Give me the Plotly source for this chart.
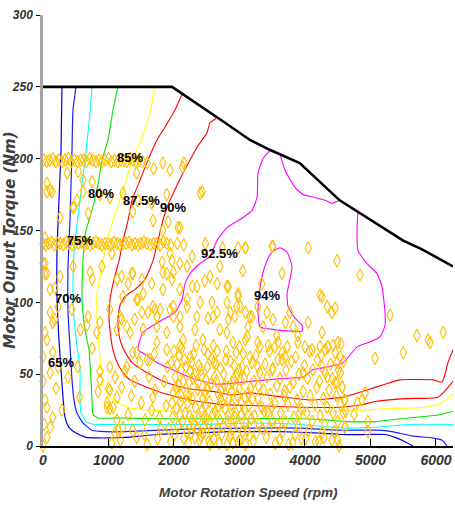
import plotly.graph_objects as go

# ---------------- data (speed in rpm, torque in Nm) ----------------
max_speed = [0, 1970, 2780, 3160, 3470, 3920, 4530, 4840, 5500, 5780, 6215, 6260]
max_torque = [250, 250, 225, 213, 206, 197, 171, 162, 143, 137, 126, 125]

c65_speed = [290, 275, 244, 214, 214, 244, 275, 305, 336, 397, 504, 657, 825, 1023, 1252, 1741, 2245, 2855, 3619, 4230, 4535, 4963, 5222, 5375, 5528, 5650]
c65_torque = [250, 206, 171, 136, 102, 74, 53, 34, 20, 13, 9, 6, 5.6, 5.6, 6, 8, 9, 10, 10, 9, 8, 8, 8, 6, 3, 0]

c70_speed = [504, 458, 443, 412, 382, 382, 412, 443, 473, 519, 611, 748, 947, 1252, 1787, 2397, 3161, 3924, 4505, 5115, 5329, 5635, 5940, 6093, 6169]
c70_torque = [250, 234, 206, 157, 125, 93, 70, 46, 32, 23, 16, 11, 10, 10, 11, 12, 12.5, 12.5, 11, 11, 10, 7, 5.6, 4, 0]

c75_speed = [748, 718, 641, 565, 489, 458, 473, 519, 565, 565, 580, 657, 794, 1176, 1787, 2397, 3161, 3924, 4566, 5070, 5574, 6260]
c75_torque = [250, 232, 199, 171, 143, 116, 88, 70, 53, 32, 23, 17, 15, 15, 15, 15, 16, 15, 12.5, 13, 15, 15]

c80_speed = [1145, 1069, 993, 901, 840, 748, 641, 611, 596, 641, 702, 733, 748, 764, 840, 1176, 1787, 2397, 3161, 3924, 4382, 4657, 5070, 5574, 6032, 6260]
c80_torque = [250, 234, 213, 199, 182, 164, 147, 129, 102, 81, 67, 46, 32, 22, 19.5, 19.5, 19, 19, 19, 19, 18, 17, 17, 19.5, 21.6, 24]

c85_speed = [1710, 1634, 1481, 1359, 1222, 1054, 977, 901, 825, 825, 855, 886, 916, 1023, 1283, 1634, 2245, 3161, 3924, 4535, 4810, 5329, 5833, 6093, 6260]
c85_torque = [250, 232, 211, 199, 178, 155, 143, 125, 106, 88, 70, 53, 42, 34, 27, 25, 24, 24, 24, 24, 25, 26, 27, 30, 36]

c875_speed = [2123, 2016, 1863, 1741, 1603, 1481, 1359, 1298, 1222, 1161, 1084, 1023, 1008, 1054, 1115, 1206, 1329, 1527, 1893, 2245, 2703, 3314, 3924, 4535, 4841, 5070, 5528, 6032, 6169, 6260]
c875_torque = [245, 234, 222, 213, 199, 185, 171, 157, 143, 129, 116, 102, 88, 70, 60, 52, 46, 42, 36, 32, 29, 28, 27, 27, 28.5, 31, 33, 34, 40, 45]

c90_speed = [2642, 2550, 2504, 2352, 2245, 2138, 2031, 1939, 1863, 1802, 1756, 1680, 1558, 1405, 1252, 1176, 1145, 1161, 1222, 1359, 1588, 1893, 2199, 2596, 2901, 3161, 3665, 4077, 4581, 4948, 5222, 5451, 5955, 6093, 6184, 6260]
c90_torque = [228, 225, 218, 208, 199, 190, 180, 171, 162, 152, 143, 129, 116, 109, 104, 98, 88, 77, 68, 58, 51, 44, 40, 38, 35.5, 37, 34, 32, 34, 39, 43, 46, 46, 44.5, 58, 67]

c925_speed = [3466, 3359, 3283, 3268, 3191, 3054, 2810, 2657, 2550, 2397, 2245, 2168, 2123, 2016, 1832, 1680, 1527, 1481, 1451, 1588, 1741, 1985, 2291, 2657, 3161, 3665, 3970, 4123, 4230, 4581, 4795, 4963, 5146, 5222, 5222, 5176, 5100, 4948, 4810, 4795, 4810]
c925_torque = [206, 200, 190, 173, 164, 159, 152, 143, 132, 127, 120, 113, 102, 93, 88, 84, 79, 74, 67, 63, 58, 53, 47, 43, 45, 47, 48, 53, 54, 58, 69, 72, 76, 84, 93, 111, 120, 127, 136, 152, 163]

c925b_speed = [3619, 3695, 3848, 3970, 4153, 4306, 4413, 4530]
c925b_torque = [203, 192, 180, 175, 173, 171, 169, 171]

c94_speed = [3619, 3726, 3802, 3772, 3726, 3741, 3848, 3955, 3955, 3772, 3543, 3314, 3283, 3298, 3344, 3420, 3497, 3619]
c94_torque = [138, 135, 125, 116, 106, 97, 89, 84, 80, 80, 81, 83, 93, 104, 118, 129, 135, 138]

level_labels = ["65%", "70%", "75%", "80%", "85%", "87.5%", "90%", "92.5%", "94%"]
label_speed = [275, 382, 565, 886, 1328, 1500, 1980, 2688, 3420]
label_torque = [58, 103, 143, 176, 201, 171, 166, 134, 105]

x_ticks = [0, 1000, 2000, 3000, 4000, 5000, 6000]
y_ticks = [0, 50, 100, 150, 200, 250, 300]

# operating points
row_hi_speed = [10, 55, 100, 150, 195, 245, 290, 340, 385, 430, 480, 525, 575, 620, 665, 715, 760, 810, 855, 900, 950, 1000, 1045, 1090, 1140, 1185, 1235, 1280, 1330, 1375, 1420, 1470, 1520, 1590, 1690, 1830, 1940, 2130, 2150]
row_hi_torque = [199, 198, 199, 200, 198, 199, 198, 199, 200, 198, 199, 198, 199, 199, 198, 200, 199, 198, 199, 198, 199, 200, 198, 199, 198, 199, 199, 198, 200, 199, 198, 199, 198, 197, 193, 197, 192, 194, 197]

row_mid_speed = [0, 40, 85, 130, 175, 220, 265, 310, 355, 400, 445, 490, 540, 585, 630, 675, 720, 765, 810, 855, 900, 950, 995, 1040, 1085, 1130, 1175, 1220, 1265, 1310, 1360, 1405, 1450, 1495, 1540, 1590, 1640, 1690, 1740, 1790, 1840, 1890, 1950, 2050, 2150, 2480, 2740, 3090, 3510]
row_mid_torque = [141, 140, 141, 142, 140, 141, 141, 140, 142, 141, 140, 141, 141, 142, 140, 141, 140, 141, 142, 141, 140, 141, 141, 140, 142, 141, 140, 141, 141, 142, 140, 141, 140, 141, 142, 141, 140, 141, 141, 140, 142, 141, 140, 141, 140, 141, 138, 138, 139]

upper_speed = [60, 140, 370, 540, 750, 610, 470, 520, 870, 1020, 1220, 1430, 1450, 1370, 1660, 1890, 1680, 1910, 2090, 2400, 260, 690, 30, 1830, 2060, 60, 110, 460, 610, 2430]
upper_torque = [177, 177, 190, 191, 184, 177, 166, 171, 175, 173, 176, 190, 171, 163, 169, 175, 157, 156, 152, 176, 159, 162, 145, 150, 152, 183, 178, 166, 185, 177]

left_speed = [0, 30, 110, 150, 60, 150, 0, 230, 30, 60, 260, 180, 460, 720, 750, 900, 110, 230, 180, 30, 440, 570, 670, 820, 690, 870,
              110, 290, 60, 110, 0, 60, 30, 150, 530, 380, 840, 560, 750, 980, 0, 200, 20, 870, 870, 980]
left_torque = [127, 120, 109, 86, 74, 65, 62, 55, 127, 120, 118, 110, 125, 121, 116, 125, 93, 97, 88, 79, 95, 81, 84, 79, 90, 86,
               51, 25, 27, 13, 0, 6, 32, 20, 55, 48, 38, 34, 68, 30, 45, 40, 15, 52, 46, 27]

midl_speed = [1020, 1180, 1220, 1280, 1400, 1530, 1680, 1740, 1830, 1660, 1990, 2090, 2200, 1990, 1740, 1890, 2090, 1590, 1370, 1280, 1020, 1050, 1130, 1200, 1300, 1370, 1430, 1530, 1510, 1600, 1710, 1890, 1970, 1820, 1940, 2090, 2200, 1200, 1330, 1130, 1020, 1130, 1070, 1790, 1450, 1510, 1360, 1830, 1970, 2090, 1940, 2090, 1990, 1890, 1740]
midl_torque = [95, 90, 104, 83, 88, 81, 97, 90, 109, 113, 97, 109, 102, 121, 72, 67, 69, 60, 65, 55, 55, 134, 116, 118, 113, 120, 102, 106, 93, 93, 95, 120, 129, 128, 95, 90, 97, 88, 79, 81, 39, 34, 27, 95, 102, 116, 120, 121, 116, 127, 134, 83, 90, 79, 83]

midr_speed = [2350, 2400, 2320, 2440, 2600, 2700, 2810, 2200, 2280, 2280, 2470, 2550, 2660, 2700, 2830, 2980, 3050, 3010, 3090, 2930, 2580, 2520, 2660, 2350, 2810, 3130, 3500, 3650, 3510, 3360, 3280, 3420, 3570, 3090, 2980, 4050, 4490, 4840, 4460, 4260, 4340, 4410, 4050, 4260, 3340, 3190, 3700, 3770, 3820, 3890, 2810, 2980, 2960, 2860, 2830, 3160, 3120, 3090, 3280, 3310, 3440, 3540, 3590, 3730, 3890, 4000, 4110, 4230, 4310, 4350, 4430, 4500, 4540, 4490, 3700, 3500, 3280, 3650, 3970, 4260, 4340, 4460, 4540, 4570, 4610, 4580, 4610, 4500, 4920, 4870, 4960, 4960, 5070, 5300, 5500, 5710, 5880, 6110, 5910, 4230]
midr_torque = [111, 100, 81, 74, 90, 81, 100, 125, 132, 111, 115, 118, 113, 125, 111, 106, 122, 97, 93, 90, 100, 89, 93, 90, 79, 83, 139, 120, 88, 83, 97, 93, 77, 138, 138, 138, 129, 119, 96, 104, 97, 93, 86, 79, 113, 90, 86, 93, 83, 77, 111, 104, 97, 93, 88, 90, 76, 74, 72, 69, 70, 69, 72, 69, 72, 69, 67, 69, 67, 69, 70, 72, 62, 58, 62, 53, 55, 60, 51, 55, 48, 44, 51, 41, 32, 23, 13, 4, 37, 32, 17, 10, 61, 91, 65, 77, 74, 79, 72, 105]

low_speed = [1050, 1100, 1130, 1180, 1220, 1150, 1370, 1430, 1590, 1560, 1660, 1680, 1710, 1480, 1430, 1630, 1200, 1020, 1300, 1500, 1800, 1850, 1750, 1880, 1620, 1400, 1250, 1550, 1780, 1900, 1700, 1350, 1000, 1100]
low_torque = [2, 9, 18, 4, 13, 11, 11, 6, 1, 18, 25, 34, 39, 58, 65, 60, 41, 26, 22, 30, 12, 45, 5, 28, 48, 45, 52, 8, 20, 55, 64, 35, 40, 48]

cloud_speed = [1950, 2010, 2060, 1980, 2040, 2100, 1990, 2070, 2020, 2110, 1960, 2080, 2150, 2130, 2170, 2190, 2140, 2180, 2120, 2200,
               2220, 2260, 2300, 2240, 2330, 2280, 2360, 2230, 2310, 2380, 2250, 2340, 2390, 2370, 2210, 2290, 2350, 2270,
               2410, 2450, 2500, 2430, 2540, 2470, 2560, 2420, 2510, 2580, 2460, 2530, 2590, 2490, 2440, 2570, 2520, 2480,
               2610, 2650, 2700, 2630, 2740, 2680, 2770, 2620, 2710, 2790, 2660, 2750, 2690, 2720, 2640, 2780,
               2810, 2850, 2900, 2830, 2940, 2880, 2970, 2820, 2910, 2990, 2860, 2950, 2870, 2930, 2890, 2980, 2840, 2960,
               3010, 3050, 3100, 3030, 3140, 3080, 3170, 3020, 3110, 3190, 3060, 3150, 3090, 3130, 3040, 3180,
               3210, 3260, 3300, 3230, 3340, 3280, 3370, 3220, 3310, 3390, 3250, 3350, 3290, 3380,
               3410, 3450, 3500, 3430, 3540, 3470, 3570, 3420, 3510, 3590, 3460, 3550, 3490, 3580,
               3610, 3660, 3700, 3630, 3740, 3680, 3770, 3620, 3710, 3790, 3650, 3750, 3690,
               3810, 3850, 3900, 3830, 3940, 3880, 3970, 3820, 3910, 3990, 3860, 3950, 3920,
               4010, 4060, 4110, 4030, 4150, 4080, 4180, 4040, 4120, 4190, 4070, 4160,
               4210, 4260, 4300, 4230, 4340, 4280, 4370, 4220, 4310, 4390, 4250, 4350, 4290,
               4410, 4450, 4500, 4430, 4540, 4480, 4570, 4420, 4510, 4590, 4460, 4550, 4610, 4600, 4520, 4620, 4490,
               4750, 4800,
               1920, 1970, 2030, 2090, 2160, 2230, 2270, 2320, 2410, 2460, 2510, 2550, 2610, 2670, 2730, 2760, 2830, 2880, 2920, 2990, 3030, 3070, 3120, 3160,
               2050, 2110, 2250, 2370, 2450, 2530, 2650, 2710, 2800, 2900, 3000, 3080, 3200, 2000, 2140, 2300, 2600, 2900, 3000]
cloud_torque = [3, 8, 14, 20, 26, 31, 37, 42, 48, 53, 58, 63, 5, 17, 23, 36, 45, 55, 68, 10,
                2, 9, 15, 21, 27, 33, 39, 44, 50, 56, 62, 70, 4, 19, 30, 47, 12, 58,
                7, 13, 19, 25, 31, 37, 43, 49, 55, 61, 67, 3, 22, 46, 33, 10, 64, 28,
                5, 11, 18, 24, 30, 36, 42, 48, 54, 60, 66, 14, 2, 39, 57, 26,
                1, 6, 12, 17, 23, 29, 35, 41, 47, 53, 59, 65, 8, 20, 44, 3, 32, 50,
                4, 10, 16, 22, 28, 34, 40, 46, 52, 58, 64, 7, 1, 37, 55, 19,
                3, 9, 15, 21, 27, 33, 39, 45, 51, 57, 63, 12, 42, 24,
                6, 12, 18, 24, 30, 36, 42, 48, 54, 60, 66, 2, 27, 15,
                4, 10, 17, 23, 29, 35, 41, 47, 53, 59, 65, 1, 38,
                2, 8, 14, 20, 26, 32, 38, 44, 50, 56, 62, 5, 23,
                5, 11, 17, 23, 29, 35, 41, 47, 53, 60, 66, 3,
                3, 9, 15, 21, 27, 33, 39, 45, 51, 57, 63, 69, 6,
                4, 10, 17, 23, 29, 35, 41, 47, 53, 59, 65, 71, 13, 32, 0, 24, 44,
                22, 30,
                12, 30, 40, 22, 60, 35, 18, 6, 53, 20, 40, 1, 58, 27, 8, 50, 21, 38, 56, 14, 30, 47, 11, 62,
                57, 35, 52, 44, 9, 16, 45, 33, 66, 2, 40, 25, 33, 66, 74, 64, 70, 72, 69]

op_speed = row_hi_speed + row_mid_speed + upper_speed + left_speed + midl_speed + midr_speed + low_speed + cloud_speed
op_torque = row_hi_torque + row_mid_torque + upper_torque + left_torque + midl_torque + midr_torque + low_torque + cloud_torque

# ---------------- styling ----------------
contours = [
    (c65_speed, c65_torque, "#0000E6", 1.2),
    (c70_speed, c70_torque, "#1E1EFF", 1.2),
    (c75_speed, c75_torque, "#00FFFF", 1.1),
    (c80_speed, c80_torque, "#00E600", 1.1),
    (c85_speed, c85_torque, "#FFFF00", 1.1),
    (c875_speed, c875_torque, "#FF0000", 1.1),
    (c90_speed, c90_torque, "#FF0000", 1.1),
    (c925_speed, c925_torque, "#FF00FF", 1.1),
    (c925b_speed, c925b_torque, "#FF00FF", 1.1),
    (c94_speed, c94_torque, "#FF00FF", 1.1),
]

fig = go.Figure()
for xs, ys, col, w in contours:
    fig.add_trace(go.Scatter(x=xs, y=ys, mode="lines", line=dict(color=col, width=w, shape="spline", smoothing=0.5),
                             showlegend=False, hoverinfo="skip"))

fig.add_trace(go.Scatter(x=op_speed, y=op_torque, mode="markers",
                         marker=dict(symbol="diamond-tall-open", size=9, color="#FFC000", line=dict(width=1.1, color="#FFC000")),
                         cliponaxis=False, showlegend=False))

fig.add_trace(go.Scatter(x=max_speed, y=max_torque, mode="lines", line=dict(color="black", width=2.6),
                         showlegend=False))

label_font = dict(family="Liberation Sans, Arial, sans-serif", size=13, color="black", weight="bold")
annotations = []
for t, sx, ty in zip(level_labels, label_speed, label_torque):
    annotations.append(dict(x=sx, y=ty, xref="x", yref="y", text=t, showarrow=False, font=label_font))

annotations.append(dict(x=0.5, y=-0.107, xref="paper", yref="paper", text="Motor Rotation Speed (rpm)", showarrow=False,
                        yanchor="middle", font=dict(family="Liberation Sans, Arial, sans-serif", size=13.5,
                                                   color="#404040", weight="bold", style="italic")))
annotations.append(dict(x=-0.081, y=0.478, xref="paper", yref="paper", text="Motor Ouput Torque (Nm)", showarrow=False,
                        textangle=-90, xanchor="center", yanchor="middle",
                        font=dict(family="DejaVu Sans, sans-serif", size=15, color="#404040", weight="bold", style="italic")))

xtick_font = dict(family="Liberation Sans, Arial, sans-serif", size=14, color="#333333", weight="bold", style="italic")
ytick_font = dict(family="Liberation Sans, Arial, sans-serif", size=12, color="#333333", weight="bold", style="italic")

fig.update_layout(
    width=455, height=506,
    margin=dict(l=43, r=2, t=15, b=60),
    paper_bgcolor="white", plot_bgcolor="white",
    annotations=annotations,
    xaxis=dict(range=[0, 6260], tickvals=x_ticks, ticks="inside", ticklen=7, tickcolor="black", tickwidth=1.2,
               showline=True, linecolor="black", linewidth=1.5, showgrid=False, zeroline=False, tickfont=xtick_font),
    yaxis=dict(range=[0, 300], tickvals=y_ticks, ticks="outside", ticklen=4, tickcolor="black", tickwidth=1.2,
               showline=True, linecolor="#A6A6A6", linewidth=2.5, showgrid=False, zeroline=False, tickfont=ytick_font,
               ticklabelstandoff=1),
)

fig.write_html("out.html")
